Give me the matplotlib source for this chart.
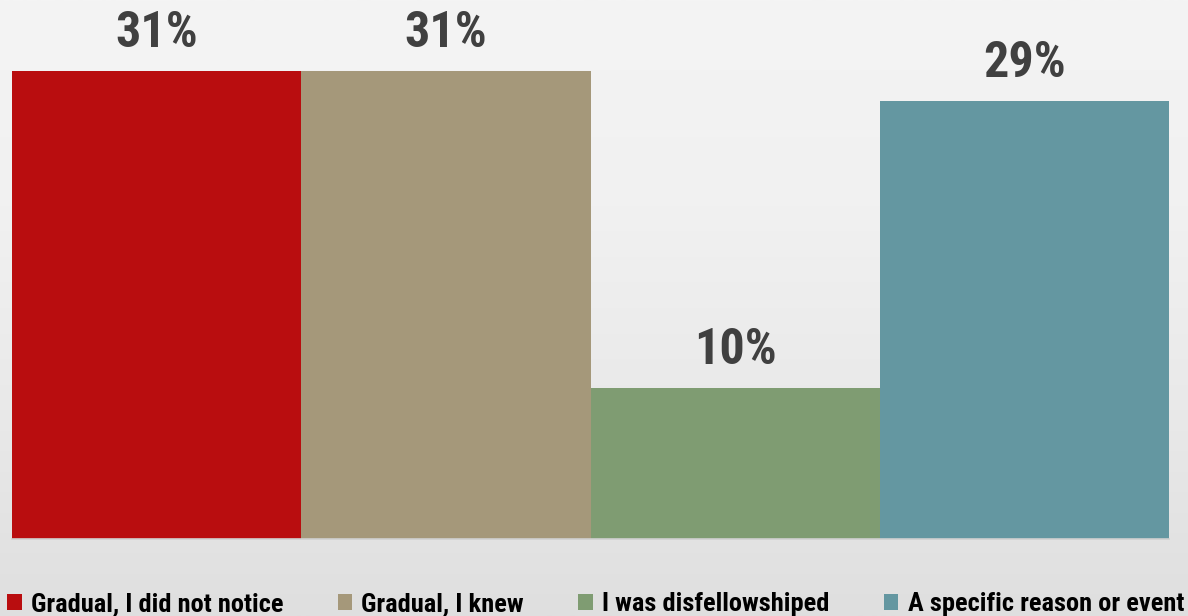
import numpy as np
import matplotlib
matplotlib.use("Agg")
import matplotlib.pyplot as plt
from matplotlib.patches import Patch

categories = ["Gradual, I did not notice", "Gradual, I knew",
              "I was disfellowshiped", "A specific reason or event"]
values = [31, 31, 10, 29]
colors = ["#b90d0f", "#a5987a", "#7f9c72", "#6497a1"]

W, H, DPI = 1188, 616, 100
fig = plt.figure(figsize=(W / DPI, H / DPI), dpi=DPI)

# soft grey background, lighter at the top
bg = fig.add_axes([0, 0, 1, 1], zorder=0)
grad = np.linspace(0, 1, 256).reshape(-1, 1)
bg.imshow(grad, aspect="auto", cmap=matplotlib.colors.LinearSegmentedColormap.from_list(
    "bg", ["#f4f4f4", "#f1f1f1", "#e9e9e9", "#dfdfdf"]), extent=[0, 1, 0, 1])
bg.axis("off")

font = ["Roboto Condensed", "DejaVu Sans"]

ax = fig.add_axes([12 / W, (H - 539) / H, (1169 - 12) / W, 539 / H], zorder=1)
ax.patch.set_alpha(0)
x = np.arange(len(values))
bars = ax.bar(x, values, width=1.0, color=colors, linewidth=0)
ax.set_xlim(-0.5, len(values) - 0.5)
ax.set_ylim(0, 539 / 15.1)
for b, v in zip(bars, values):
    ax.text(b.get_x() + b.get_width() / 2, v + 1.6, f"{v}%", ha="center", va="baseline",
            fontsize=36, fontweight="bold", color="#404040", family=font)
for s in ["top", "right", "left"]:
    ax.spines[s].set_visible(False)
ax.spines["bottom"].set_color("#d0d0d0")
ax.spines["bottom"].set_linewidth(1.2)
ax.set_xticks([])
ax.set_yticks([])

handles = [Patch(facecolor=c, edgecolor="none") for c in colors]
fig.legend(handles, categories, loc="lower left", ncol=4, mode="expand",
           bbox_to_anchor=(7 / W, 0.0, (1184 - 7) / W, 30 / H), frameon=False,
           borderaxespad=0, borderpad=0, handlelength=0.55, handleheight=0.55,
           handletextpad=0.35, columnspacing=1.0,
           prop={"family": font, "weight": "bold", "size": 19})

fig.savefig("out.png", dpi=DPI)
